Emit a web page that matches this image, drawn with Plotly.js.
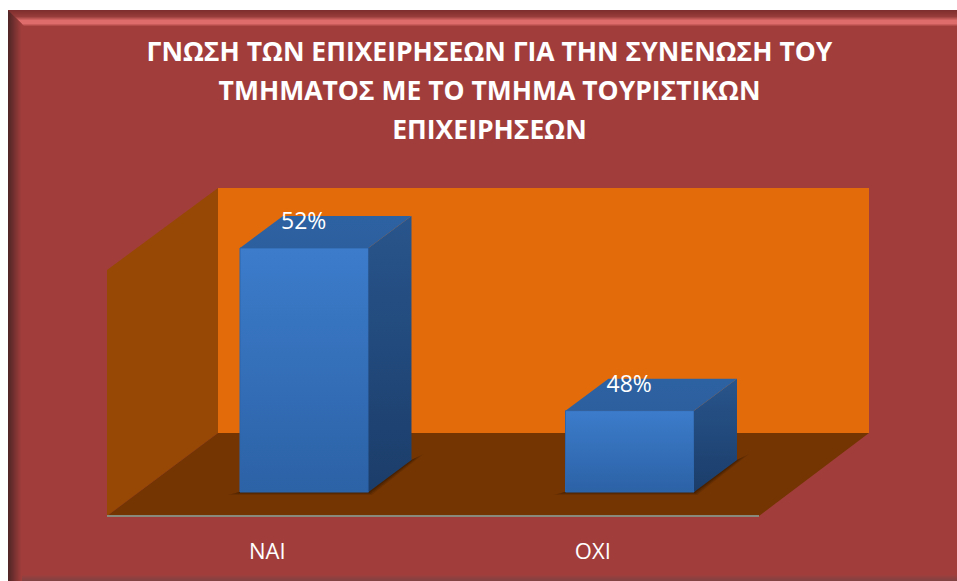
<!DOCTYPE html>
<html><head><meta charset="utf-8">
<script src="https://cdn.plot.ly/plotly-3.0.1.min.js"></script>
<style>html,body{margin:0;padding:0;background:#fff;overflow:hidden}</style>
</head><body><div id="chart" style="width:957px;height:581px"></div>
<script>
const categories = ['ΝΑΙ', 'ΟΧΙ'];
const percents = [52, 48];
const titleLines = ['ΓΝΩΣΗ ΤΩΝ ΕΠΙΧΕΙΡΗΣΕΩΝ ΓΙΑ ΤΗΝ ΣΥΝΕΝΩΣΗ ΤΟΥ', 'ΤΜΗΜΑΤΟΣ ΜΕ ΤΟ ΤΜΗΜΑ ΤΟΥΡΙΣΤΙΚΩΝ', 'ΕΠΙΧΕΙΡΗΣΕΩΝ'];

const W = 957, H = 581, BOTTOM = 516;
const base = 46, pxPerPct = 40.667, pxPerCat = 325.5, zeroX = 267.3;
const barOffset = 0.1135, barWidth = 128.5 / pxPerCat;
const dx = 43 / pxPerCat, dy = 32 / pxPerPct;
const xRange = [-zeroX / pxPerCat, (W - zeroX) / pxPerCat];
const yRange = [base - (BOTTOM - 492) / pxPerPct, base + 492 / pxPerPct];
const PX = v => v / W, PY = v => (BOTTOM - v) / BOTTOM;

function poly(pts, fill, layer) {
  return {type: 'path', xref: 'paper', yref: 'paper', layer: layer || 'below', line: {width: 0}, fillcolor: fill,
    path: 'M' + pts.map(p => PX(p[0]) + ',' + PY(p[1])).join('L') + 'Z'};
}
function mix(a, b, t) { return 'rgb(' + a.map((v, i) => Math.round(v + (b[i] - v) * t)).join(',') + ')'; }

const shapes = [];
const bg = [161, 62, 60];
shapes.push(poly([[8, 10], [W, 10], [W, H], [8, H]], '#a13e3c'));
// bevel: top band, left band, bottom band
const topStops = [[0, [126, 46, 46]], [6, [150, 60, 58]], [10, [222, 108, 106]], [13, [222, 108, 106]], [16, bg]];
for (let r = 0; r < 16; r++) {
  let c = [0, 0, 0];
  for (let s = 0; s < topStops.length - 1; s++) {
    if (r >= topStops[s][0] && r <= topStops[s + 1][0]) {
      c = mix(topStops[s][1], topStops[s + 1][1], (r - topStops[s][0]) / (topStops[s + 1][0] - topStops[s][0]));
    }
  }
  shapes.push(poly([[8 + r, 10 + r], [W, 10 + r], [W, 11 + r], [9 + r, 11 + r]], c));
}
for (let r = 0; r < 14; r++) {
  shapes.push(poly([[8 + r, 10 + r], [9 + r, 11 + r], [9 + r, H], [8 + r, H]], mix([82, 38, 38], bg, r / 13)));
}
for (let r = 0; r < 7; r++) {
  shapes.push(poly([[22, H - r], [W, H - r], [W, H - r - 1], [22, H - r - 1]], mix([130, 66, 66], bg, r / 6)));
}
// 3-D box
shapes.push(poly([[218, 188], [869, 188], [869, 433], [218, 433]], '#e46b0a'));
shapes.push(poly([[107, 270], [218, 188], [218, 433], [107, 516]], '#974805'));
shapes.push(poly([[107, 516], [218, 433], [869, 433], [759, 516]], '#743503'));
shapes.push(poly([[107, 515], [759, 515], [759, 517], [107, 517]], '#8a8a7c'));

// contact shadows on the floor, placed from each bar's position
const xPos = categories.map((c, i) => i + barOffset);
xPos.forEach(c => {
  const l = c - barWidth / 2, r = c + barWidth / 2, m = 1 / pxPerCat, n = 1 / pxPerPct;
  [[12, 'rgba(45,20,0,0.18)'], [8, 'rgba(45,20,0,0.25)'], [4, 'rgba(45,20,0,0.35)']].forEach(([s, col]) => {
    const pts = [[l - s * m, base - (s / 4) * n], [r + (s / 4) * m, base - (s / 4) * n], [r + dx + s * m, base + dy + (s / 2) * n],
      [r + dx, base + dy], [l, base]];
    shapes.push({type: 'path', xref: 'x', yref: 'y', layer: 'below', line: {width: 0}, fillcolor: col,
      path: 'M' + pts.map(p => p[0] + ',' + p[1]).join('L') + 'Z'});
  });
});

const traces = [{
  type: 'bar', x: xPos, y: percents.map(v => v - base), base: base, width: barWidth,
  marker: {color: '#3370b8', line: {width: 0}}, hoverinfo: 'skip', showlegend: false
}];
function face(xs, ys, scale, edge) {
  traces.push({type: 'scatter', mode: 'lines', x: xs, y: ys, fill: 'toself', line: edge ? {width: 1, color: edge} : {width: 0},
    fillcolor: scale[0][1], fillgradient: {type: 'vertical', colorscale: scale}, hoverinfo: 'skip', showlegend: false});
}
percents.forEach((v, i) => {
  const l = xPos[i] - barWidth / 2, r = xPos[i] + barWidth / 2;
  face([l, r, r, l, l], [base, base, v, v, base], [[0, '#2c62a6'], [1, '#3c7ccb']], '#2f66ab');
  face([r, r + dx, r + dx, r, r], [base, base + dy, v + dy, v, base], [[0, '#1b3d6a'], [1, '#28558c']]);
  face([l, r, r + dx, l + dx, l], [v, v, v + dy, v + dy, v], [[0, '#2c5f9e'], [1, '#2d62a2']]);
});
traces.push({
  type: 'scatter', mode: 'text', x: xPos.map(c => c - 0.5 / pxPerCat), y: percents.map(v => v + 24.5 / pxPerPct),
  text: percents.map(v => v + '%'), textposition: 'middle center',
  textfont: {family: '"Open Sans", sans-serif', size: 23, color: '#ffffff'},
  hoverinfo: 'skip', showlegend: false, cliponaxis: false
});

const layout = {
  width: W, height: H, margin: {l: 0, r: 0, t: 0, b: H - BOTTOM, pad: 0},
  paper_bgcolor: '#ffffff', plot_bgcolor: 'rgba(0,0,0,0)', showlegend: false,
  font: {family: '"Open Sans", sans-serif', color: '#ffffff'},
  title: {text: titleLines.map(t => '<span style="font-size:26.5px">' + t + '</span>').join('<br>'),
    font: {family: '"Open Sans", sans-serif', size: 30, color: '#ffffff', weight: 700},
    x: 489.5 / W, xanchor: 'center', y: 1 - 61 / H, yanchor: 'top'},
  xaxis: {range: xRange, tickmode: 'array', tickvals: categories.map((c, i) => i), ticktext: categories,
    showgrid: false, zeroline: false, showline: false, ticks: '', ticklabelstandoff: 20,
    tickfont: {family: '"Open Sans", sans-serif', size: 22, color: '#ffffff'}},
  yaxis: {range: yRange, visible: false, showgrid: false, zeroline: false},
  bargap: 0, shapes: shapes
};
Plotly.newPlot('chart', traces, layout, {displayModeBar: false, staticPlot: true});
</script></body></html>
